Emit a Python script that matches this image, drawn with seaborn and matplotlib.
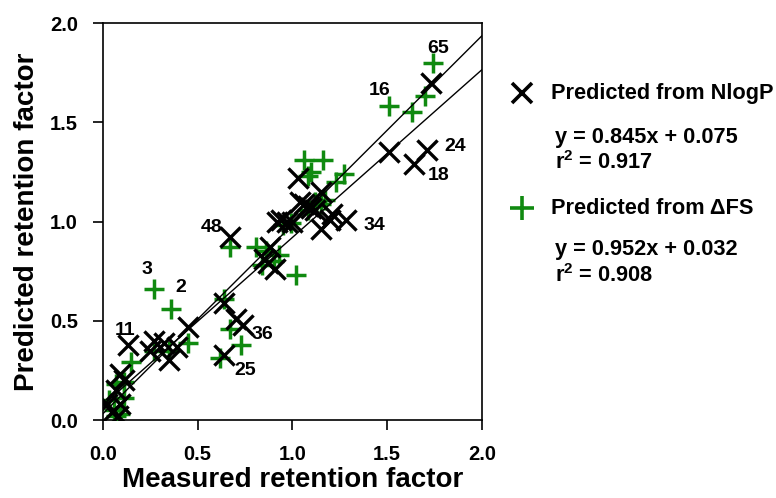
import numpy as np
import pandas as pd
import matplotlib
matplotlib.use("Agg")
import matplotlib.pyplot as plt
from matplotlib.lines import Line2D
import seaborn as sns

# measured vs predicted retention factor
nlogp_x = [1.73, 1.51, 1.71, 1.64, 1.03, 1.15, 1.06, 1.08, 1.10, 1.12, 1.21, 1.15, 1.20, 1.28,
           0.92, 0.94, 0.97, 1.00, 0.67, 0.88, 0.85, 0.87, 0.91, 0.64, 0.70, 0.74, 0.64, 0.45,
           0.13, 0.27, 0.32, 0.35, 0.39, 0.25, 0.09, 0.11, 0.07, 0.02, 0.05, 0.08, 0.09, 1.04]
nlogp_y = [1.70, 1.35, 1.36, 1.29, 1.22, 1.15, 1.09, 1.08, 1.07, 1.06, 1.04, 0.96, 1.01, 1.01,
           1.00, 1.01, 1.00, 1.00, 0.92, 0.87, 0.81, 0.79, 0.76, 0.59, 0.51, 0.48, 0.33, 0.47,
           0.38, 0.40, 0.39, 0.30, 0.37, 0.35, 0.23, 0.20, 0.15, 0.08, 0.04, 0.02, 0.08, 1.10]

dfs_x = [1.74, 1.51, 1.63, 1.70, 1.06, 1.16, 1.10, 1.08, 1.27, 1.23, 1.17, 1.15, 0.99, 0.95,
         1.02, 0.67, 0.81, 0.86, 0.90, 0.93, 0.27, 0.36, 0.64, 0.67, 0.73, 0.45, 0.27, 0.35,
         0.62, 0.15, 0.11, 0.07, 0.03, 0.11, 0.06, 0.09, 0.07, 1.08, 1.12, 0.84]
dfs_y = [1.80, 1.58, 1.55, 1.63, 1.31, 1.31, 1.25, 1.23, 1.24, 1.20, 1.11, 1.09, 0.99, 0.98,
         0.73, 0.87, 0.87, 0.85, 0.80, 0.83, 0.66, 0.56, 0.61, 0.46, 0.38, 0.39, 0.35, 0.35,
         0.31, 0.29, 0.19, 0.18, 0.10, 0.11, 0.05, 0.03, 0.02, 1.06, 1.10, 0.78]

# regression fits shown in the legend
fit_slopes = [0.845, 0.952]
fit_intercepts = [0.075, 0.032]
fit_r2 = [0.917, 0.908]
series_names = ["Predicted from NlogP", "Predicted from \u0394FS"]

# numbered compounds and where their labels sit
point_labels = ["65", "16", "24", "18", "34", "48", "3", "2", "11", "36", "25"]
label_pos = [(1.77, 1.87), (1.46, 1.66), (1.86, 1.38), (1.77, 1.23), (1.43, 0.98),
             (0.575, 0.97), (0.23, 0.76), (0.41, 0.67), (0.115, 0.45), (0.84, 0.43),
             (0.75, 0.25)]

GREEN = "#108a10"

sns.set_theme(style="white")
plt.rcParams["font.family"] = ["Liberation Sans", "DejaVu Sans"]
plt.rcParams["mathtext.fontset"] = "custom"
plt.rcParams["mathtext.rm"] = "Liberation Sans:bold"
plt.rcParams["mathtext.bf"] = "Liberation Sans:bold"
for key in ["text.color", "axes.labelcolor", "xtick.color", "ytick.color", "axes.edgecolor"]:
    plt.rcParams[key] = "black"

fig = plt.figure(figsize=(7.76, 4.98), dpi=100)
ax = fig.add_axes([0.1327, 0.1566, 0.4884, 0.7972])

df_n = pd.DataFrame({"x": nlogp_x, "y": nlogp_y})
df_f = pd.DataFrame({"x": dfs_x, "y": dfs_y})

sns.scatterplot(data=df_f, x="x", y="y", marker="+", s=210, color=GREEN,
                linewidth=2.5, ax=ax, zorder=3)
sns.scatterplot(data=df_n, x="x", y="y", marker="x", s=210, color="black",
                linewidth=2.4, ax=ax, zorder=4)

xs = np.linspace(0, 2, 50)
for m, b in zip(fit_slopes, fit_intercepts):
    sns.lineplot(x=xs, y=m * xs + b, color="black", linewidth=1.0, ax=ax, zorder=5)

for lab, (lx, ly) in zip(point_labels, label_pos):
    ax.text(lx, ly, lab, fontsize=14, fontweight="bold", ha="center", va="center")

ax.set_xlim(0, 2.0)
ax.set_ylim(0, 2.0)
ticks = [0.0, 0.5, 1.0, 1.5, 2.0]
ax.set_xticks(ticks)
ax.set_yticks(ticks)
ax.set_xticklabels([f"{t:.1f}" for t in ticks], fontsize=14.5, fontweight="bold")
ax.set_yticklabels([f"{t:.1f}" for t in ticks], fontsize=14.5, fontweight="bold")
ax.tick_params(axis="x", direction="out", length=7.2, width=1.2, bottom=True, pad=11)
ax.tick_params(axis="y", direction="out", length=7.2, width=1.2, left=True, pad=10.8)
for sp in ax.spines.values():
    sp.set_color("black")
    sp.set_linewidth(1.2)
ax.set_xlabel("Measured retention factor", fontsize=20, fontweight="bold", labelpad=2)
ax.set_ylabel("Predicted retention factor", fontsize=20, fontweight="bold", labelpad=7)

# legend block on the right
fig.add_artist(Line2D([522 / 776], [1 - 93 / 498], marker="x", markersize=14, mew=2.6,
                      color="black", linestyle="none"))
fig.add_artist(Line2D([522 / 776], [1 - 208 / 498], marker="+", markersize=17, mew=2.6,
                      color=GREEN, linestyle="none"))
fig.text(551 / 776, 1 - 93 / 498, series_names[0], fontsize=15.7, fontweight="bold", va="center")
fig.text(551 / 776, 1 - 208 / 498, series_names[1], fontsize=15.7, fontweight="bold", va="center")
for i, yc in enumerate([137, 250]):
    fig.text(555 / 776, 1 - yc / 498,
             f"y = {fit_slopes[i]:.3f}x + {fit_intercepts[i]:.3f}",
             fontsize=15.7, fontweight="bold", va="center")
    fig.text(555 / 776, 1 - (yc + 26) / 498,
             r"r$^\mathbf{2}$" + f" = {fit_r2[i]:.3f}",
             fontsize=15.7, fontweight="bold", va="center")

fig.savefig("out.png", dpi=100)
